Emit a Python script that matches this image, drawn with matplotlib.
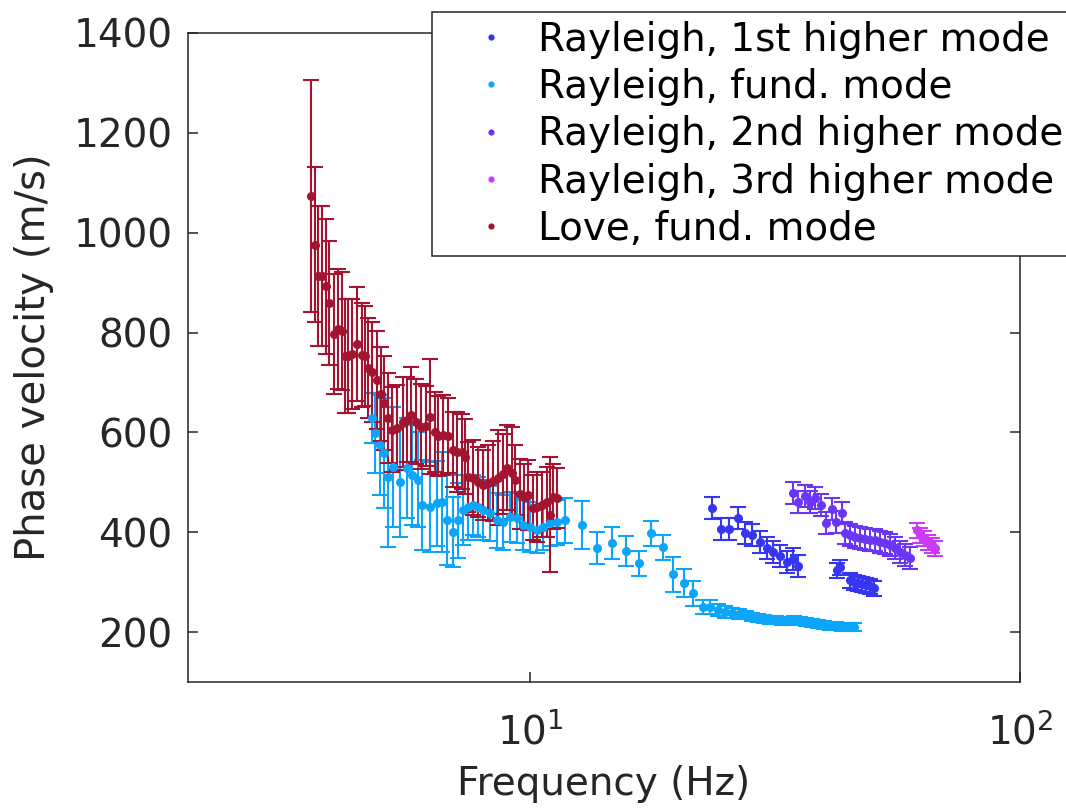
import matplotlib
matplotlib.use("Agg")
import matplotlib.pyplot as plt
from matplotlib.lines import Line2D

# ---------------- data ----------------
labels = ["Rayleigh, 1st higher mode", "Rayleigh, fund. mode",
          "Rayleigh, 2nd higher mode", "Rayleigh, 3rd higher mode",
          "Love, fund. mode"]

r1_f = [23.50, 24.52, 25.45, 26.57, 27.46, 28.37, 29.46, 30.44, 31.31, 32.36, 33.45,
        34.40, 35.22, 42.30, 42.90, 44.98, 45.84, 46.71, 47.60, 48.50, 49.41, 50.35]
r1_v = [448, 406, 406, 428, 398, 394, 380, 368, 360, 352, 340,
        346, 332, 324, 330, 304, 300, 298, 296, 294, 292, 288]
r1_e = [22, 22, 22, 22, 22, 22, 22, 22, 22, 22, 22,
        22, 22, 15, 15, 15, 15, 15, 15, 15, 15, 15]

r0_f = [4.751, 4.819, 4.933, 5.027, 5.122, 5.245, 5.420, 5.601, 5.734, 5.898, 6.010,
        6.240, 6.449, 6.602, 6.759, 6.952, 7.118, 7.287, 7.461, 7.638, 7.820, 8.006,
        8.274, 8.550, 8.794, 9.088, 9.395, 9.664, 9.987, 10.32, 10.62, 10.97, 11.34,
        11.77, 12.76, 13.68, 14.69, 15.68, 16.67, 17.64, 18.66, 19.56, 20.60, 21.49,
        22.53, 23.28, 24.17, 24.98, 25.82, 26.69, 27.59, 28.37, 29.18, 30.02, 30.87,
        31.75, 32.66, 33.60, 34.56, 35.53, 36.56, 37.60, 38.69, 39.79, 40.93, 42.10,
        43.31, 44.56, 45.84]
r0_v = [629, 599, 575, 559, 511, 531, 501, 529, 515, 505, 454,
        450, 458, 461, 424, 400, 424, 444, 450, 454, 450, 444,
        438, 424, 420, 430, 428, 414, 410, 404, 410, 418, 420,
        424, 414, 368, 378, 362, 338, 398, 370, 316, 298, 278,
        250, 250, 244, 240, 238, 236, 234, 230, 228, 226, 224,
        224, 222, 222, 224, 222, 220, 218, 216, 214, 212, 212,
        210, 210, 210]
r0_e = [50, 80, 100, 110, 140, 120, 110, 100, 100, 95, 90,
        90, 85, 100, 90, 70, 75, 70, 65, 60, 60, 60,
        55, 55, 55, 50, 50, 50, 50, 45, 45, 45, 45,
        45, 48, 32, 32, 30, 25, 25, 25, 35, 28, 25,
        14, 14, 12, 12, 10, 10, 8, 8, 8, 8, 8,
        8, 8, 8, 8, 8, 8, 8, 8, 8, 8, 8,
        8, 8, 8]

r2_f = [34.40, 35.22, 36.39, 37.25, 38.14, 39.25, 40.18, 41.32, 42.10, 43.31, 43.93, 44.98,
        46.05, 47.15, 48.27, 49.41, 50.58, 51.78, 53.02, 54.28, 55.58, 56.89, 58.25, 59.63]
r2_v = [478, 460, 472, 460, 468, 454, 418, 446, 420, 438, 398, 394,
        390, 388, 386, 384, 384, 380, 378, 374, 368, 360, 354, 348]
r2_e = [22] * 24

r3_f = [61.63, 62.51, 63.69, 64.89, 66.13, 67.07]
r3_v = [404, 394, 388, 380, 374, 368]
r3_e = [15, 15, 15, 15, 15, 15]

love_f = [3.566, 3.634, 3.686, 3.756, 3.827, 3.881, 3.974, 4.049, 4.126, 4.184,
          4.244, 4.324, 4.427, 4.532, 4.597, 4.662, 4.751, 4.864, 4.956, 5.027,
          5.122, 5.220, 5.344, 5.497, 5.601, 5.707, 5.843, 5.982, 6.124, 6.240,
          6.389, 6.479, 6.633, 6.791, 6.952, 7.084, 7.253, 7.356, 7.461, 7.638,
          7.820, 8.006, 8.196, 8.391, 8.590, 8.794, 8.961, 9.174, 9.305, 9.527,
          9.708, 9.893, 10.13, 10.32, 10.57, 10.82, 10.97, 11.13, 11.34]
love_v = [1074, 976, 913, 913, 893, 859, 797, 807, 803, 753,
          753, 757, 777, 755, 753, 729, 721, 705, 677, 659,
          629, 605, 609, 621, 625, 635, 621, 611, 613, 631,
          601, 593, 595, 593, 565, 561, 561, 551, 511, 509,
          501, 495, 499, 503, 509, 517, 529, 519, 505, 477,
          471, 475, 449, 451, 455, 461, 435, 471, 469]
love_e = [232, 155, 140, 140, 135, 125, 120, 120, 118, 115,
          115, 110, 115, 105, 100, 100, 100, 98, 95, 95,
          90, 85, 85, 90, 85, 95, 85, 85, 80, 115,
          80, 80, 80, 75, 75, 80, 75, 75, 70, 75,
          70, 70, 75, 80, 95, 80, 85, 92, 70, 70,
          65, 70, 65, 70, 65, 70, 115, 65, 60]

colors = ["#3535F2", "#0DA5FA", "#6B35F5", "#CC3AF5", "#A2142F"]

# ---------------- figure ----------------
plt.rcParams["font.family"] = ["DejaVu Sans"]
axc = "#262626"
fig = plt.figure(figsize=(10.66, 8.08), dpi=100)
ax = fig.add_axes([188 / 1066, 1 - 682 / 808, 832 / 1066, 649 / 808])

series = [(r1_f, r1_v, r1_e), (r0_f, r0_v, r0_e), (r2_f, r2_v, r2_e),
          (r3_f, r3_v, r3_e), (love_f, love_v, love_e)]
for (f, v, e), c in zip(series, colors):
    ax.errorbar(f, v, yerr=e, fmt="o", color=c, ms=5.5, elinewidth=1.5,
                capsize=6, capthick=1.5)

ax.set_xscale("log")
ax.set_xlim(2, 100)
ax.set_ylim(100, 1400)
ax.set_yticks([200, 400, 600, 800, 1000, 1200, 1400])
ax.set_xticks([10, 100])
ax.minorticks_off()

for s in ax.spines.values():
    s.set_color(axc)
    s.set_linewidth(1.1)
ax.tick_params(axis="both", which="major", direction="in", length=7, width=1.1,
               color=axc, labelcolor=axc, labelsize=28, top=True, right=True)
ax.tick_params(axis="x", pad=22)
ax.tick_params(axis="y", pad=11)

ax.set_xlabel("Frequency (Hz)", fontsize=28, color=axc, labelpad=9)
ax.set_ylabel("Phase velocity (m/s)", fontsize=29, color=axc, labelpad=14)

handles = [Line2D([], [], ls="none", marker="o", ms=4.5, color=c, mew=0) for c in colors]
leg = fig.legend(handles, labels, loc="upper left",
                 bbox_to_anchor=(432 / 1066, 1 - 12 / 808), bbox_transform=fig.transFigure,
                 borderaxespad=0, fontsize=28, frameon=True, fancybox=False,
                 borderpad=0.22, labelspacing=0.24, handlelength=2.6,
                 handletextpad=-0.1, numpoints=1)
fr = leg.get_frame()
fr.set_edgecolor(axc)
fr.set_linewidth(1.1)
fr.set_alpha(1)

fig.savefig("out.png", dpi=100)
